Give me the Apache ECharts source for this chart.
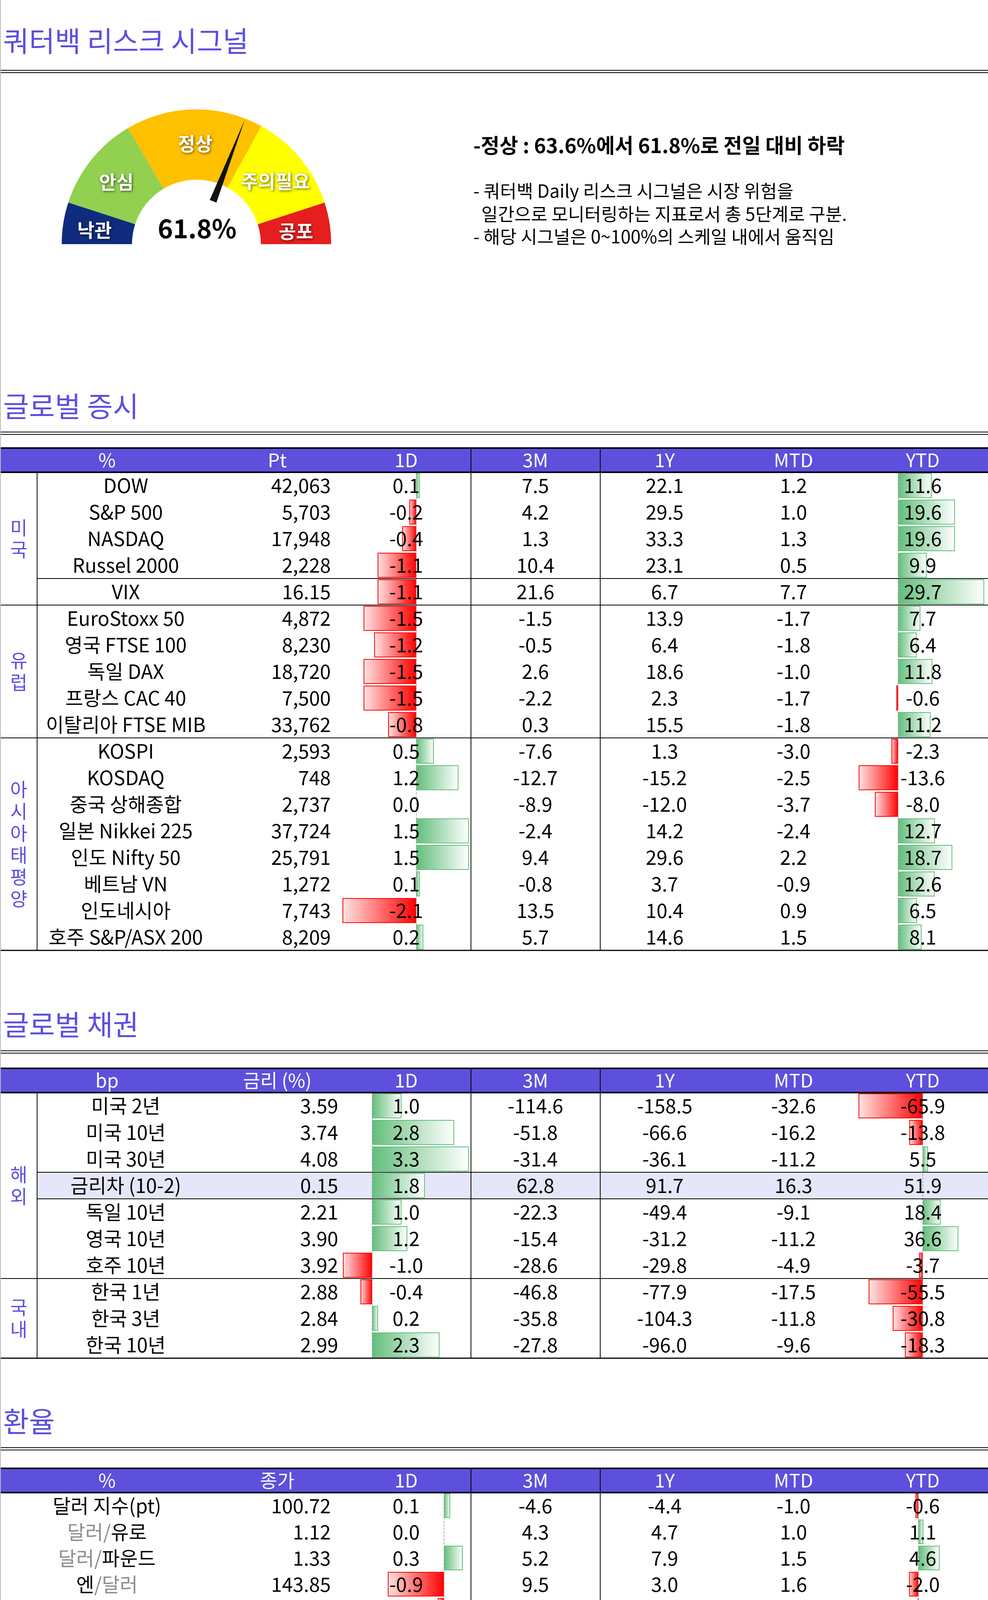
<!DOCTYPE html>
<html>
<head>
<meta charset="utf-8">
<script src="https://cdn.jsdelivr.net/npm/echarts@6/dist/echarts.min.js"></script>
<style>
  html, body { margin: 0; padding: 0; background: #fff; }
  #chart { width: 2530px; height: 5509px; }
</style>
</head>
<body>
<div id="chart"></div>
<script>
// ---- data ----
const signalValue = 61.8;
const signalPrev = 63.6;
const gaugeBands = [[0.1, '#0F2B7D'], [0.33, '#92D050'], [0.66, '#FFC000'], [0.9, '#FFFF00'], [1, '#E61E1E']];

const eqNames = ['DOW', 'S&P 500', 'NASDAQ', 'Russel 2000', 'VIX', 'EuroStoxx 50', '영국 FTSE 100', '독일 DAX', '프랑스 CAC 40', '이탈리아 FTSE MIB', 'KOSPI', 'KOSDAQ', '중국 상해종합', '일본 Nikkei 225', '인도 Nifty 50', '베트남 VN', '인도네시아', '호주 S&P/ASX 200'];
const eqLevel = ['42,063', '5,703', '17,948', '2,228', '16.15', '4,872', '8,230', '18,720', '7,500', '33,762', '2,593', '748', '2,737', '37,724', '25,791', '1,272', '7,743', '8,209'];
const eq1D = [0.1, -0.2, -0.4, -1.1, -1.1, -1.5, -1.2, -1.5, -1.5, -0.8, 0.5, 1.2, 0.0, 1.5, 1.5, 0.1, -2.1, 0.2];
const eq3M = [7.5, 4.2, 1.3, 10.4, 21.6, -1.5, -0.5, 2.6, -2.2, 0.3, -7.6, -12.7, -8.9, -2.4, 9.4, -0.8, 13.5, 5.7];
const eq1Y = [22.1, 29.5, 33.3, 23.1, 6.7, 13.9, 6.4, 18.6, 2.3, 15.5, 1.3, -15.2, -12.0, 14.2, 29.6, 3.7, 10.4, 14.6];
const eqMTD = [1.2, 1.0, 1.3, 0.5, 7.7, -1.7, -1.8, -1.0, -1.7, -1.8, -3.0, -2.5, -3.7, -2.4, 2.2, -0.9, 0.9, 1.5];
const eqYTD = [11.6, 19.6, 19.6, 9.9, 29.7, 7.7, 6.4, 11.8, -0.6, 11.2, -2.3, -13.6, -8.0, 12.7, 18.7, 12.6, 6.5, 8.1];
const eqGroups = [['미국', 5], ['유럽', 5], ['아시아태평양', 8]];

const bdNames = ['미국 2년', '미국 10년', '미국 30년', '금리차 (10-2)', '독일 10년', '영국 10년', '호주 10년', '한국 1년', '한국 3년', '한국 10년'];
const bdLevel = ['3.59', '3.74', '4.08', '0.15', '2.21', '3.90', '3.92', '2.88', '2.84', '2.99'];
const bd1D = [1.0, 2.8, 3.3, 1.8, 1.0, 1.2, -1.0, -0.4, 0.2, 2.3];
const bd3M = [-114.6, -51.8, -31.4, 62.8, -22.3, -15.4, -28.6, -46.8, -35.8, -27.8];
const bd1Y = [-158.5, -66.6, -36.1, 91.7, -49.4, -31.2, -29.8, -77.9, -104.3, -96.0];
const bdMTD = [-32.6, -16.2, -11.2, 16.3, -9.1, -11.2, -4.9, -17.5, -11.8, -9.6];
const bdYTD = [-65.9, -13.8, 5.5, 51.9, 18.4, 36.6, -3.7, -55.5, -30.8, -18.3];
const bdGroups = [['해외', 7], ['국내', 3]];

const fxNames = ['달러 지수(pt)', '달러/유로', '달러/파운드', '엔/달러', '달러/호주 달러', '원/달러', '위안화(역내)/달러', '위안화(역외)/달러', '러시아 루블/달러', '브라질 헤알/달러'];
const fxLevel = ['100.72', '1.12', '1.33', '143.85', '0.68', '1,332.20', '7.05', '7.04', '92.37', '5.51'];
const fx1D = [0.1, 0.0, 0.3, -0.9, -0.1, -0.2, 0.2, 0.4, 0.0, -1.6];
const fx3M = [-4.6, 4.3, 5.2, 9.5, 2.3, 3.8, 2.9, 3.4, -5.9, -1.1];
const fx1Y = [-4.4, 4.7, 7.9, 3.0, 5.6, -0.2, 3.3, 3.6, 4.0, -12.9];
const fxMTD = [-1.0, 1.0, 1.5, 1.6, 0.6, 0.4, 0.6, 0.7, -2.1, 1.7];
const fxYTD = [-0.6, 1.1, 4.6, -2.0, -0.1, -3.2, 0.7, 1.2, -3.2, -13.6];

const cmNames = ['WTI (bbl)', '천연가스 (MMBtu)', '금 (t oz)', '은 (t oz)', '구리 (lb)', '알루미늄 (T)', '소맥 (Bu)', '대두 (Bu)', '옥수수 (Bu)'];
const cmLevel = ['71.9', '2.4', '2,622.4', '31.5', '434.3', '20,030.0', '568.5', '1,012.0', '401.8'];
const cm1D = [0.0, 3.7, 1.2, 0.3, -0.1, 0.6, 0.5, -0.1, -1.0];
const cm3M = [-12.5, -11.2, 10.7, 2.2, -4.8, -2.3, -0.7, -12.4, -8.6];
const cm1Y = [-20.3, -10.9, 34.6, 32.2, 15.0, 4.1, -3.4, -23.3, -16.7];
const cmMTD = [-2.2, 14.4, 4.7, 9.7, 4.8, 1.6, 6.7, 3.1, 6.3];
const cmYTD = [0.4, -3.2, 26.6, 30.8, 11.6, 2.4, -9.5, -21.8, -14.7];

// ---- layout helpers ----
const FONT = '"Noto Sans CJK KR", "Noto Sans", sans-serif';
const PURPLE = '#5B4FE0';
const FS = 50; // body text size
const graphic = [];
const grids = [], xAxes = [], yAxes = [], series = [];

function text(x, y, str, size, opt = {}) {
  graphic.push({
    type: 'text', x, y, z: 100,
    style: Object.assign({
      text: str, font: (opt.weight || 'normal') + ' ' + size + 'px ' + FONT,
      fill: opt.color || '#000', align: opt.align || 'center', verticalAlign: 'middle'
    }, opt.style || {})
  });
}
function line(x1, y1, x2, y2, w = 2, color = '#000') {
  graphic.push({ type: 'line', z: 90, shape: { x1, y1, x2, y2 }, style: { stroke: color, lineWidth: w } });
}
function rect(x, y, w, h, fill) {
  graphic.push({ type: 'rect', z: 0, shape: { x, y, width: w, height: h }, style: { fill } });
}
function sectionTitle(label, y, lineY) {
  text(8, y, label, 72, { align: 'left', color: PURPLE });
  line(0, lineY, 2530, lineY, 2);
  line(0, lineY + 6, 2530, lineY + 6, 2);
}
function barStyle(v) {
  if (v >= 0) {
    return { borderColor: '#63BE7B', borderWidth: 2,
      color: { type: 'linear', x: 0, y: 0, x2: 1, y2: 0, colorStops: [{ offset: 0, color: '#63BE7B' }, { offset: 1, color: '#FFFFFF' }] } };
  }
  return { borderColor: '#FF0000', borderWidth: 2,
    color: { type: 'linear', x: 0, y: 0, x2: 1, y2: 0, colorStops: [{ offset: 0, color: '#FFE4E4' }, { offset: 1, color: '#FF0000' }] } };
}
function barColumn(vals, axisX, unit, top, rowH, skip) {
  const R = Math.ceil(Math.max(...vals.map(Math.abs))) + 1;
  const gi = grids.length;
  grids.push({ left: axisX - R * unit, top, width: 2 * R * unit, height: vals.length * rowH });
  xAxes.push({ type: 'value', gridIndex: gi, min: -R, max: R, show: false });
  yAxes.push({ type: 'category', gridIndex: gi, inverse: true, show: false, data: vals.map((v, i) => i) });
  series.push({
    type: 'bar', xAxisIndex: gi, yAxisIndex: gi, barWidth: rowH - 4, silent: true,
    data: vals.map((v, i) => (skip && skip.includes(i)) || v === 0 ? '-' : { value: v, itemStyle: barStyle(v) }),
    markLine: { symbol: 'none', silent: true, label: { show: false },
      lineStyle: { type: 'dashed', color: '#999', width: 1.5 }, data: [{ xAxis: 0 }] }
  });
}

function table(t) {
  const n = t.names.length;
  const hTop = t.headTop, hH = 62, bTop = hTop + hH, rH = t.rowH, bEnd = bTop + n * rH;
  sectionTitle(t.title, t.titleY, t.lineY);
  // header
  rect(0, hTop, 2530, hH, '#5D50DC');
  const hy = hTop + hH / 2;
  [[274, t.h0], [710, t.h1], [1040, '1D'], [1371, '3M'], [1702, '1Y'], [2032, 'MTD'], [2363, 'YTD']]
    .forEach(([x, s]) => text(x, hy, s, 48, { color: '#fff' }));
  line(0, hTop, 2530, hTop, 4);
  line(0, bTop, 2530, bTop, 4);
  line(0, bEnd, 2530, bEnd, 3);
  line(1206, hTop, 1206, bEnd, 2);
  line(1537, hTop, 1537, bEnd, 2);
  // highlight rows
  (t.highlight || []).forEach(i => {
    const x0 = t.groups ? 95 : 0;
    rect(x0, bTop + i * rH, 2530 - x0, rH, '#E6E6FA');
    line(x0, bTop + i * rH, 2530, bTop + i * rH, 2);
    line(x0, bTop + (i + 1) * rH, 2530, bTop + (i + 1) * rH, 2);
  });
  (t.partLines || []).forEach(i => line(95, bTop + i * rH, 2530, bTop + i * rH, 2));
  (t.fullLines || []).forEach(i => line(0, bTop + i * rH, 2530, bTop + i * rH, 2));
  // groups
  if (t.groups) {
    line(95, bTop, 95, bEnd, 2);
    let r = 0;
    t.groups.forEach(([g, k], gi) => {
      const cy = bTop + (r + k / 2) * rH;
      const chars = g.split('');
      chars.forEach((c, ci) => text(48, cy + (ci - (chars.length - 1) / 2) * 56, c, 48, { color: PURPLE }));
      r += k;
      if (gi < t.groups.length - 1) line(0, bTop + r * rH, 2530, bTop + r * rH, 2);
    });
  }
  const nameX = t.groups ? 322 : 274;
  const fmt = v => v.toFixed(1);
  for (let i = 0; i < n; i++) {
    const cy = bTop + (i + 0.5) * rH;
    if (t.richName) {
      const s = t.names[i].replace(/^달러\//, '{g|달러/}').replace(/\/달러$/, '{g|/달러}');
      const parts = s.split(/(\{g\|[^}]*\})/).filter(p => p).map(p => p.startsWith('{g|') ? p : '{b|' + p + '}');
      text(nameX, cy, parts.join(''), FS, { style: { rich: {
        b: { font: FS + 'px ' + FONT, fill: '#000' }, g: { font: FS + 'px ' + FONT, fill: '#8C8C8C' } } } });
    } else {
      text(nameX, cy, t.names[i], FS);
    }
    text(t.levelX, cy, t.level[i], FS, { align: 'right' });
    text(1040, cy, fmt(t.d1[i]), FS);
    text(1371, cy, fmt(t.m3[i]), FS);
    text(1702, cy, fmt(t.y1[i]), FS);
    text(2032, cy, fmt(t.mtd[i]), FS);
    text(2363, cy, fmt(t.ytd[i]), FS);
  }
  barColumn(t.d1, t.ax1, t.u1, bTop, rH, t.skip1);
  barColumn(t.ytd, t.ax2, t.u2, bTop, rH, t.skip2);
}

// ---- top section: risk signal ----
sectionTitle('쿼터백 리스크 시그널', 105, 180);
[['낙관', 242, 589], ['안심', 298, 466], ['정상', 500, 368], ['주의필요', 705, 464], ['공포', 758, 592]]
  .forEach(([s, x, y]) => text(x, y, s, 48, { weight: 'bold', color: '#fff',
    style: { textShadowColor: 'rgba(0,0,0,0.6)', textShadowBlur: 6, textShadowOffsetX: 2, textShadowOffsetY: 2 } }));
text(505, 585, signalValue.toFixed(1) + '%', 66, { weight: 'bold' });
text(1212, 372, '-정상 : ' + signalPrev + '%에서 ' + signalValue + '%로 전일 대비 하락', 52, { align: 'left', weight: 'bold' });
text(1212, 489, '- 쿼터백 Daily 리스크 시그널은 시장 위험을', 46, { align: 'left' });
text(1212, 548, '  일간으로 모니터링하는 지표로서 총 5단계로 구분.', 46, { align: 'left' });
text(1212, 606, '- 해당 시그널은 0~100%의 스케일 내에서 움직임', 46, { align: 'left' });

series.push({
  type: 'gauge', center: [503, 625], radius: 345, startAngle: 180, endAngle: 0, min: 0, max: 100,
  axisLine: { lineStyle: { width: 180, color: gaugeBands } },
  axisTick: { show: false }, splitLine: { show: false }, axisLabel: { show: false },
  pointer: { length: '99%', width: 14, itemStyle: { color: '#111' } },
  anchor: { show: false }, title: { show: false }, detail: { show: false },
  data: [{ value: signalValue }]
});
series.push({
  type: 'pie', center: [503, 625], radius: [0, 118], silent: true, z: 5,
  label: { show: false }, labelLine: { show: false },
  data: [{ value: 1, itemStyle: { color: '#fff' } }]
});

// ---- tables ----
table({ title: '글로벌 증시', titleY: 1040, lineY: 1106, headTop: 1147, rowH: 68, h0: '%', h1: 'Pt',
  names: eqNames, level: eqLevel, d1: eq1D, m3: eq3M, y1: eq1Y, mtd: eqMTD, ytd: eqYTD,
  groups: eqGroups, partLines: [4], levelX: 847, ax1: 1066, u1: 90, ax2: 2302, u2: 7.5 });
table({ title: '글로벌 채권', titleY: 2623, lineY: 2690, headTop: 2735, rowH: 68, h0: 'bp', h1: '금리 (%)',
  names: bdNames, level: bdLevel, d1: bd1D, m3: bd3M, y1: bd1Y, mtd: bdMTD, ytd: bdYTD,
  groups: bdGroups, highlight: [3], skip2: [3], levelX: 866, ax1: 953, u1: 75, ax2: 2410, u2: 3.2 });
table({ title: '환율', titleY: 3639, lineY: 3706, headTop: 3759, rowH: 67, h0: '%', h1: '종가',
  names: fxNames, level: fxLevel, d1: fx1D, m3: fx3M, y1: fx1Y, mtd: fxMTD, ytd: fxYTD,
  richName: true, highlight: [5], levelX: 847, ax1: 1137, u1: 160, ax2: 2443, u2: 18 });
text(8, 4519, "* 환율 읽는 법: 환율 기간 성과는 미국 달러 대비 강세/약세로 표시. 즉, '+'는 달러 대비 강세, '-'는 달러 대비 약세를 의미.", 27, { align: 'left', color: '#222' });
table({ title: '원자재', titleY: 4715, lineY: 4781, headTop: 4833, rowH: 68, h0: '%', h1: '종가',
  names: cmNames, level: cmLevel, d1: cm1D, m3: cm3M, y1: cm1Y, mtd: cmMTD, ytd: cmYTD,
  fullLines: [2, 4, 6], levelX: 847, ax1: 947, u1: 69, ax2: 2335, u2: 6.2 });
line(1, 0, 1, 5509, 2, '#bbb');

const chart = echarts.init(document.getElementById('chart'));
chart.setOption({
  animation: false,
  backgroundColor: '#fff',
  grid: grids, xAxis: xAxes, yAxis: yAxes, series, graphic
});
</script>
</body>
</html>
